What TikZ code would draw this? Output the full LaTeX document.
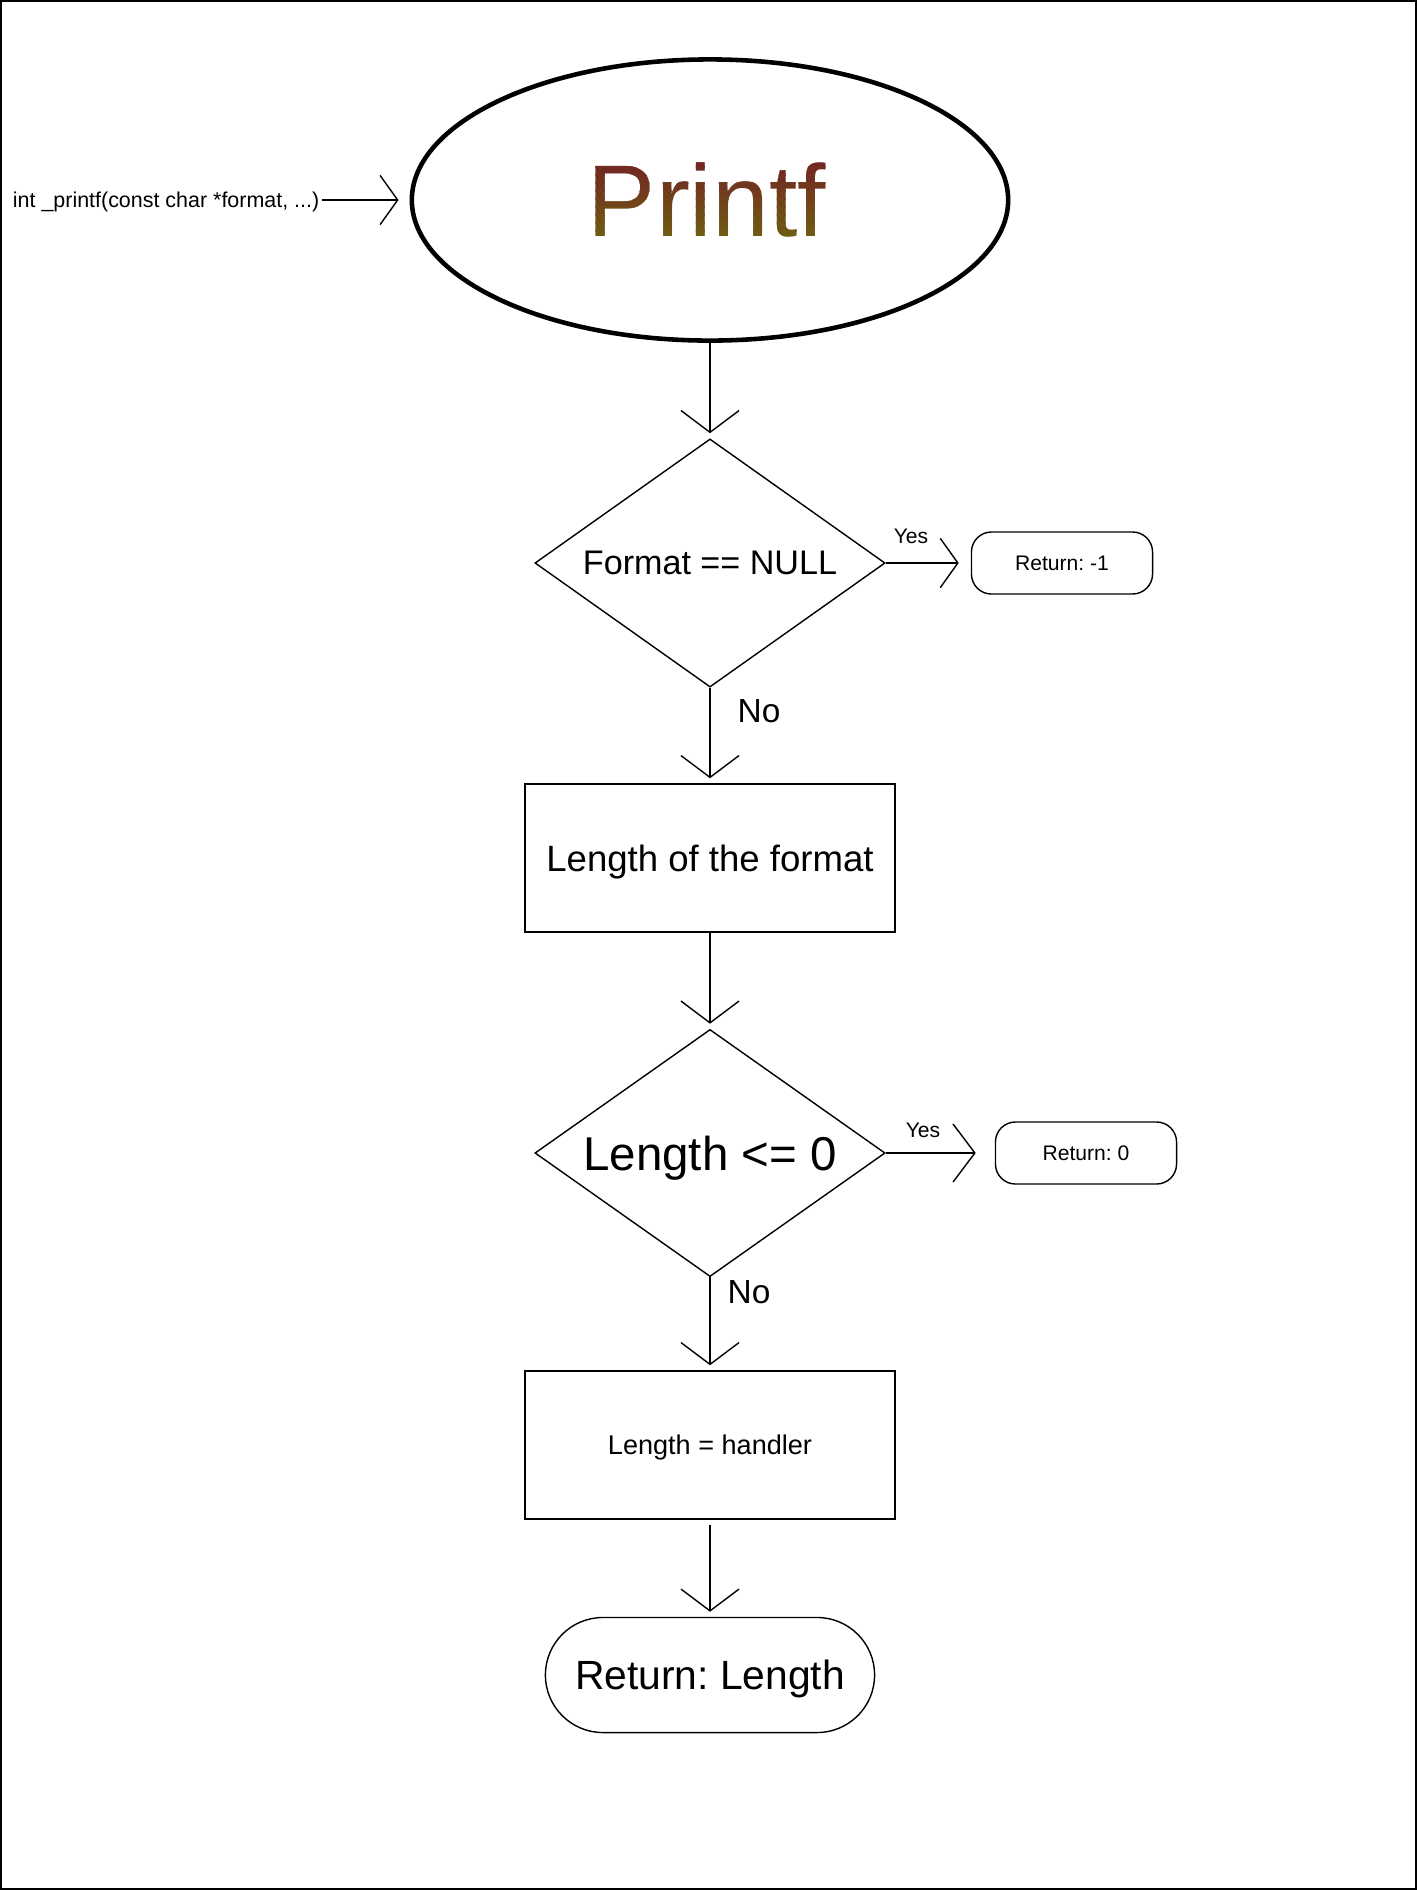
\documentclass[tikz,border=0pt]{standalone}
\usepackage{fontspec}
\setmainfont{Liberation Sans}
\usetikzlibrary{shapes.geometric, arrows.meta}
\definecolor{printfred}{RGB}{115,37,36}
\definecolor{printfolive}{RGB}{110,91,19}
\frenchspacing

\begin{document}
\begin{tikzpicture}[x=0.01cm, y=-0.01cm,
  flow/.style = {-{Straight Barb[length=6.2pt, width=16.5pt]}, shorten >=0.05cm},
  smallflow/.style = {-{Straight Barb[length=5pt, width=14pt]}},
  block/.style = {shape=rectangle, draw, minimum width=3.7cm, minimum height=1.48cm, inner sep=0pt},
  decision/.style = {shape=diamond, draw, aspect=1.41, minimum width=3.5cm, minimum height=2.48cm, inner sep=0pt},
  retbox/.style = {shape=rectangle, rounded corners=0.2cm, draw, minimum width=1.81cm, minimum height=0.62cm,
    font=\fontsize{6}{7}\selectfont},
  lbl/.style = {inner sep=0pt},
  every node/.append style = {text depth=0pt}]
  \useasboundingbox (0,0) rectangle (1417,1890);
  \draw[line width=0.02cm] (1,1) rectangle (1416,1889);

  \node[shape=ellipse, draw, line width=1.3pt, minimum width=5.96cm, minimum height=2.81cm] (printf) at (710,200) {};
  \foreach \i in {0,...,9}{
    \pgfmathtruncatemacro\mix{100-\i*11}
    \begin{scope}
      \clip ({560},{158+\i*8}) rectangle ({860},{167+\i*8});
      \node[anchor=base, inner sep=0pt, text=printfred!\mix!printfolive, font=\fontsize{29}{30}\selectfont]
        (title\i) at (707,236) {Printf};
    \end{scope}
  }
  \node[anchor=east, inner sep=0pt, font=\fontsize{6.1}{7}\selectfont] (proto) at (320,200)
    {int \_printf(const char *format, ...)};

  \node[decision, font=\fontsize{9.7}{11}\selectfont] (null) at (710,563) {Format == NULL};
  \node[retbox] (retneg) at (1062,563) {Return: -1};
  \node[block, font=\fontsize{10.4}{12}\selectfont] (fmtlen) at (710,858) {Length of the format};
  \node[decision, font=\fontsize{13.5}{15}\selectfont, minimum height=2.47cm] (lenzero) at (710,1153) {Length <= 0};
  \node[retbox] (retzero) at (1086,1153) {Return: 0};
  \node[block, font=\fontsize{7.7}{9}\selectfont] (handler) at (710,1445) {Length = handler};
  \node[shape=rectangle, rounded corners=0.575cm, draw, minimum width=3.29cm, minimum height=1.15cm,
    font=\fontsize{11.6}{13}\selectfont] (retlen) at (710,1675) {Return: Length};

  \node[lbl, font=\fontsize{6}{7}\selectfont] (yesnull) at (911,536) {Yes};
  \node[lbl, font=\fontsize{6}{7}\selectfont] (yeszero) at (923,1130) {Yes};
  \node[lbl, font=\fontsize{9.5}{11}\selectfont] (nonull) at (759,711) {No};
  \node[lbl, font=\fontsize{9.5}{11}\selectfont] (nozero) at (749,1292) {No};

  \draw[smallflow, shorten >=0.11cm, shorten <=0.02cm] (proto.east) -- (printf.west);
  \draw[flow] (printf.south) -- (null.north);
  \draw[flow] (null.south) -- (fmtlen.north);
  \draw[flow] (fmtlen.south) -- (lenzero.north);
  \draw[flow] (lenzero.south) -- (handler.north);
  \draw[flow, shorten <=0.05cm] (handler.south) -- (retlen.north);
  \draw[smallflow, shorten >=0.12cm] (null.east) -- (retneg.west);
  \draw[flow, shorten >=0.19cm] (lenzero.east) -- (retzero.west);
\end{tikzpicture}
\end{document}
